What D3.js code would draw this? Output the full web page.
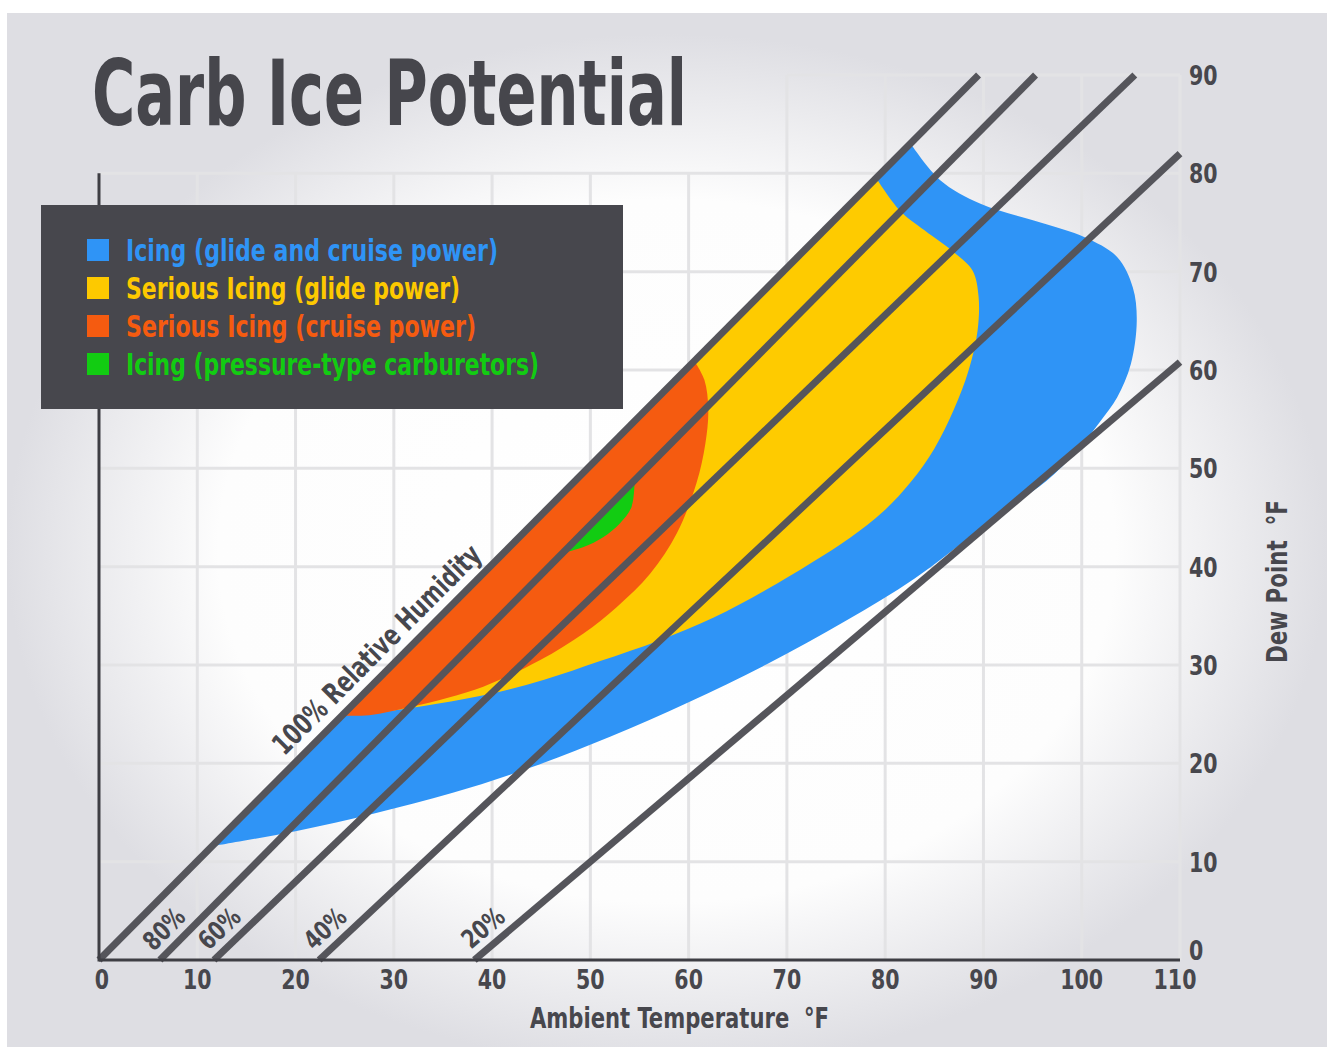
<!DOCTYPE html>
<html>
<head>
<meta charset="utf-8">
<script src="https://cdn.jsdelivr.net/npm/d3@7"></script>
<style>
  html, body { margin: 0; padding: 0; background: #fff; }
  svg { display: block; }
  text { font-family: "Liberation Sans Narrow", "DejaVu Sans Condensed", "Arial Narrow", sans-serif; font-weight: bold; }
</style>
</head>
<body>
<svg id="chart" width="1327" height="1047"></svg>
<script>
// ticks
var xTicks = [0, 10, 20, 30, 40, 50, 60, 70, 80, 90, 100, 110]
var yTicks = [0, 10, 20, 30, 40, 50, 60, 70, 80, 90]

// relative humidity lines, [ambient temp, dew point]
var rhLabels = ['100% Relative Humidity', '80%', '60%', '40%', '20%']
var rhLines = [
  [[0, 0], [89.5, 90]],
  [[6.2, 0], [95.3, 90]],
  [[11.7, 0], [105.4, 90]],
  [[22.4, 0], [110, 82]],
  [[38.2, 0], [110, 60.8]]
]

// icing zones, outline (closed back along the 100% line)
var blueZone = [
  [82.6, 83.0], [85.6, 79.3], [89.7, 76.9], [95.8, 75.0], [100.3, 73.5], [103.6, 71.5],
  [105.2, 68.4], [105.6, 65.0], [105.0, 60.6], [103.6, 57.2], [101.9, 54.8], [99.5, 51.8],
  [96.4, 48.7], [93.0, 46.3], [89.0, 43.3], [83.0, 38.8], [76.0, 34.5], [68.0, 30.1],
  [60.0, 26.2], [52.0, 22.7], [44.0, 19.6], [36.0, 17.0], [28.0, 14.9], [20.0, 13.1], [11.5, 11.56]
]
var yellowZone = [
  [79.1, 79.5], [81.5, 76.2], [84.0, 74.2], [87.2, 71.8], [88.9, 70.1], [89.5, 67.5],
  [89.4, 64.0], [88.5, 60.0], [87.0, 56.0], [85.0, 52.0], [82.6, 48.6], [79.8, 45.6],
  [76.5, 43.0], [72.5, 40.4], [67.8, 37.6], [62.5, 34.8], [57.0, 32.5], [51.0, 30.4],
  [45.3, 28.5], [39.5, 27.0], [32.2, 25.7], [27.5, 25.1], [25.1, 25.2]
]
var orangeZone = [
  [60.6, 60.9], [61.6, 59.0], [62.0, 56.0], [61.7, 52.5], [60.8, 48.5], [58.8, 43.4],
  [56.1, 39.3], [52.7, 35.9], [49.3, 33.2], [44.9, 30.5], [39.1, 27.8], [32.0, 25.8],
  [27.5, 24.9], [24.7, 24.85]
]
var greenZone = [
  [54.5, 48.7], [54.2, 46.1], [53.0, 44.4], [51.3, 43.0], [49.3, 42.0], [47.2, 41.4]
]

var legendLabels = [
  'Icing (glide and cruise power)',
  'Serious Icing (glide power)',
  'Serious Icing (cruise power)',
  'Icing (pressure-type carburetors)'
]
var legendColors = ['#2f94f6', '#fdc900', '#f55b10', '#12cc12']
var zoneColors = ['#2f94f6', '#fecb00', '#f55b10', '#12cc12']

var ink = '#47474d'
var svg = d3.select('#chart')
var x = d3.scaleLinear().domain([0, 110]).range([99, 1180])
var y = d3.scaleLinear().domain([0, 90]).range([960, 75])

// background
var defs = svg.append('defs')
var grad = defs.append('radialGradient').attr('id', 'bg')
  .attr('cx', 0.5).attr('cy', 0.52).attr('r', 0.5)
grad.append('stop').attr('offset', '0%').attr('stop-color', '#ffffff')
grad.append('stop').attr('offset', '68%').attr('stop-color', '#fdfdfd')
grad.append('stop').attr('offset', '100%').attr('stop-color', '#dedee3')
svg.append('rect').attr('x', 7).attr('y', 13).attr('width', 1320).attr('height', 1034)
  .attr('fill', 'url(#bg)')

// grid
var grid = svg.append('g').attr('stroke', '#e3e3e5').attr('stroke-width', 3)
xTicks.slice(1).forEach(function(t) {
  grid.append('line').attr('x1', x(t)).attr('x2', x(t))
    .attr('y1', y(0)).attr('y2', y(t >= 70 ? 90 : 80))
})
yTicks.slice(1).forEach(function(t) {
  grid.append('line').attr('x1', x(t > 80 ? 70 : 0)).attr('x2', x(110))
    .attr('y1', y(t)).attr('y2', y(t))
})

// zones
var area = d3.line()
  .x(function(d) { return x(d[0]) })
  .y(function(d) { return y(d[1]) })
  .curve(d3.curveCatmullRom.alpha(0.5))
;[blueZone, yellowZone, orangeZone, greenZone].forEach(function(z, i) {
  svg.append('path').attr('d', area(z) + 'Z').attr('fill', zoneColors[i])
})

// humidity lines
var straight = d3.line().x(function(d) { return x(d[0]) }).y(function(d) { return y(d[1]) })
rhLines.forEach(function(l, i) {
  svg.append('path').attr('d', straight(l)).attr('stroke', '#55555b')
    .attr('stroke-width', 7).attr('fill', 'none')
  var at = i === 0 ? 30 : 1.8
  var f = (at - l[0][1]) / (l[1][1] - l[0][1])
  var tx = l[0][0] + f * (l[1][0] - l[0][0])
  var ang = Math.atan2(y(l[1][1]) - y(l[0][1]), x(l[1][0]) - x(l[0][0])) * 180 / Math.PI
  svg.append('text')
    .attr('transform', 'translate(' + x(tx) + ',' + y(at) + ') rotate(' + ang + ')')
    .attr('x', 0).attr('y', i === 0 ? -12 : -10)
    .attr('text-anchor', 'middle')
    .attr('textLength', i === 0 ? 282 : 47).attr('lengthAdjust', 'spacingAndGlyphs')
    .style('font-size', i === 0 ? '29px' : '26px')
    .style('fill', ink)
    .text(rhLabels[i])
})

// axes
svg.append('line').attr('x1', x(0)).attr('x2', x(0)).attr('y1', y(0) + 1.5).attr('y2', y(80))
  .attr('stroke', '#3e3e44').attr('stroke-width', 3)
svg.append('line').attr('x1', x(0)).attr('x2', x(110)).attr('y1', y(0)).attr('y2', y(0))
  .attr('stroke', '#3e3e44').attr('stroke-width', 3)

svg.append('g').selectAll('text').data(xTicks).enter().append('text')
  .attr('x', function(d) { return x(d) - (d === 110 ? 5 : 0) + (d === 0 ? 3 : 0) })
  .attr('y', 989)
  .attr('text-anchor', 'middle')
  .attr('textLength', function(d) { return String(d).length * 14.3 })
  .attr('lengthAdjust', 'spacingAndGlyphs')
  .style('font-size', '27px')
  .style('fill', ink)
  .text(function(d) { return d })

svg.append('g').selectAll('text').data(yTicks).enter().append('text')
  .attr('x', 1189)
  .attr('y', function(d) { return y(d) + (d === 0 ? 0 : 10) })
  .attr('textLength', function(d) { return String(d).length * 14.3 })
  .attr('lengthAdjust', 'spacingAndGlyphs')
  .style('font-size', '27px')
  .style('fill', ink)
  .text(function(d) { return d })

// axis titles
svg.append('text').attr('x', 530).attr('y', 1028).style('font-size', '28px')
  .attr('textLength', 299).attr('lengthAdjust', 'spacingAndGlyphs')
  .style('fill', ink)
  .text('Ambient Temperature\u00a0\u00a0\u00b0F')

svg.append('text').attr('transform', 'translate(1287,663) rotate(-90)')
  .style('font-size', '28px')
  .attr('textLength', 163).attr('lengthAdjust', 'spacingAndGlyphs')
  .style('fill', ink)
  .text('Dew Point\u00a0\u00a0\u00b0F')

// title
svg.append('text').attr('x', 92).attr('y', 125).style('font-size', '90px')
  .attr('textLength', 595).attr('lengthAdjust', 'spacingAndGlyphs')
  .style('fill', '#46464c')
  .text('Carb Ice Potential')

// legend
svg.append('rect').attr('x', 41).attr('y', 205).attr('width', 582).attr('height', 204)
  .attr('fill', '#47474d')
var legendWidths = [372, 334, 350, 413]
legendLabels.forEach(function(lab, i) {
  var cy = 250 + i * 38
  svg.append('rect').attr('x', 87).attr('y', cy - 11).attr('width', 22).attr('height', 22)
    .attr('fill', legendColors[i])
  svg.append('text').attr('x', 126).attr('y', cy + 11).style('font-size', '30px')
    .attr('textLength', legendWidths[i]).attr('lengthAdjust', 'spacingAndGlyphs')
    .style('fill', legendColors[i])
    .text(lab)
})
</script>
</body>
</html>
